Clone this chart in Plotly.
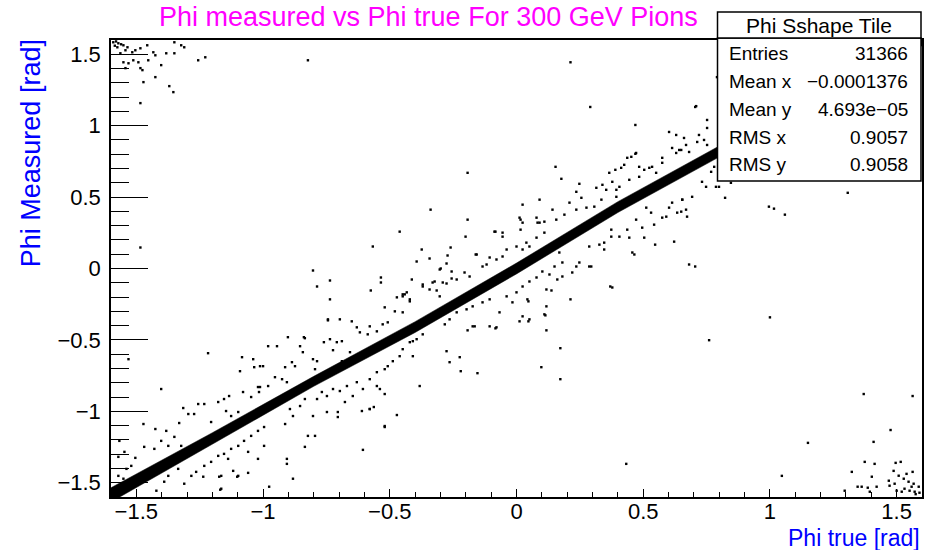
import plotly.graph_objects as go

# ---------------- data ----------------
# dense core band of the distribution: phi_true and the band's upper / lower edge in phi_measured
band_true = [-1.60, -1.20, -0.80, -0.40, 0.00, 0.40, 0.80, 1.60]
band_upper = [-1.535, -1.15, -0.755, -0.372, 0.038, 0.468, 0.858, 1.64]
band_lower = [-1.635, -1.23, -0.825, -0.448, -0.038, 0.392, 0.782, 1.56]

# sparse points far from the band (phi_true, phi_measured)
corner_top_left = [
    (-1.591, 1.584), (-1.571, 1.577), (-1.551, 1.563), (-1.535, 1.549), (-1.575, 1.549),
    (-1.563, 1.507), (-1.543, 1.528), (-1.516, 1.514), (-1.504, 1.528), (-1.484, 1.542),
    (-1.457, 1.563), (-1.433, 1.514), (-1.425, 1.493), (-1.382, 1.507), (-1.350, 1.507),
    (-1.350, 1.584), (-1.323, 1.563), (-1.311, 1.549), (-1.256, 1.458), (-1.228, 1.479),
    (-0.823, 1.458), (-1.551, 1.444), (-1.543, 1.403), (-1.531, 1.437), (-1.512, 1.458),
    (-1.492, 1.444), (-1.484, 1.403), (-1.476, 1.389), (-1.453, 1.458), (-1.472, 1.305),
    (-1.425, 1.340), (-1.402, 1.424), (-1.370, 1.277), (-1.354, 1.235), (-1.484, 1.158),
    (-1.580, 1.590), (-1.560, 1.570), (-1.585, 1.560),
]
corner_bottom_right = [
    (1.370, -0.879), (1.563, -0.893), (1.476, -1.131), (1.409, -1.214), (1.374, -1.354),
    (1.413, -1.368), (1.323, -1.424), (1.402, -1.458), (1.295, -1.556), (1.346, -1.528),
    (1.362, -1.528), (1.386, -1.535), (1.421, -1.528), (1.394, -1.563), (1.496, -1.361),
    (1.516, -1.354), (1.488, -1.417), (1.469, -1.486), (1.472, -1.521), (1.492, -1.507),
    (1.508, -1.451), (1.528, -1.472), (1.539, -1.438), (1.563, -1.424), (1.547, -1.493),
    (1.567, -1.507), (1.531, -1.542), (1.551, -1.556), (1.571, -1.563), (1.520, -1.563),
    (1.587, -1.528), (1.559, -1.528), (1.500, -1.556), (1.575, -1.580), (1.590, -1.570),
    (1.150, -1.221), (1.047, -1.452), (0.433, -1.368),
]
isolated = [
    (-1.484, 0.147), (-0.803, -0.014), (-0.339, 0.412), (-0.461, 0.258), (-0.567, 0.154),
    (-0.374, 0.133), (-0.394, 0.049), (-0.343, 0.070), (-0.260, 0.147), (-0.272, 0.091),
    (-0.276, 0.035), (-0.299, 0.000), (-0.256, -0.021), (0.213, 1.444), (0.291, 1.131),
    (0.469, 1.005), (0.705, 1.131), (0.752, 1.040), (0.752, 0.984), (0.791, 1.340),
    (0.469, 0.803), (0.437, 0.775), (0.154, 0.712), (0.177, 0.628), (-0.193, 0.670),
    (-0.193, 0.342), (-0.201, 0.223), (-0.161, 0.098), (0.024, 0.447), (0.091, 0.482),
    (0.016, 0.342), (0.016, 0.272), (-0.083, 0.258), (-0.055, 0.223), (0.287, 0.014),
    (0.681, 0.028), (0.705, 0.014), (0.622, 0.188), (0.465, 0.098), (0.823, 0.495),
    (0.799, 0.572), (0.996, 0.433), (1.016, 0.419), (1.059, 0.377), (1.307, 0.530),
    (0.846, 0.600), (0.370, -0.126), (0.378, -0.133), (0.213, -0.216), (1.000, -0.342),
    (0.760, -0.502), (-0.154, -0.733), (0.098, -0.691), (0.173, -0.558), (0.173, -0.775),
    (0.118, -0.433), (0.114, -0.328), (0.118, -0.265), (0.047, -0.370), (0.024, -0.335),
    (0.012, -0.370), (0.047, -0.230), (-0.067, -0.307), (-0.083, -0.419), (-0.106, -0.405),
    (-0.165, -0.405), (-0.193, -0.433), (0.161, -0.077), (0.138, -0.154),
    (-1.217, -0.593), (-1.402, -0.844), (-1.531, -0.635), (-0.787, -0.126), (-0.736, -0.084),
    (-0.736, -0.216), (-0.535, -0.063), (-0.535, -0.098), (-0.575, -0.154), (-0.413, -0.077),
    (-0.520, -0.272), (-0.744, -0.356), (-0.697, -0.356), (-0.882, -1.472), (-0.606, -1.270),
    (-0.520, -1.110), (-0.472, -1.026), (-0.382, -0.823), (-0.264, -0.656), (-0.224, -0.621),
    (-0.220, -0.719), (-0.276, -0.579), (-0.409, -0.614), (-0.835, -1.249), (-0.795, -1.172),
    (-0.823, -1.172), (-0.906, -1.368), (-0.906, -1.333), (-1.173, -1.458), (-1.169, -1.549),
    (-1.118, -1.417), (-1.059, -1.431), (-1.102, -1.458), (-0.976, -1.528), (-1.083, -0.621),
    (-1.039, -0.635), (-1.091, -0.719), (-0.980, -0.544), (-0.945, -0.544), (-0.902, -0.481),
    (-1.012, -0.684), (-0.839, -0.481), (-1.472, -1.089), (-1.425, -1.124), (-0.520, -0.879),
    (-0.610, -0.998), (-0.579, -0.984), (-0.563, -0.970), (-0.705, -1.040), (-0.409, -0.509),
    (-0.472, -0.202), (-0.441, -0.181), (-0.421, -0.230), (-0.370, -0.112), (-0.323, -0.091),
    (-0.315, -0.154), (-0.276, -0.105), (-0.256, -0.070),
]
# scattered points close to the band
halo = [
    (-1.315, -0.977), (-1.295, -1.019), (-1.272, -1.019), (-1.256, -0.949), (-1.232, -0.949),
    (-1.331, -1.082), (-1.382, -1.137), (-1.350, -1.179), (-1.402, -1.207), (-1.469, -1.249),
    (-1.429, -1.263), (-1.374, -1.242), (-1.323, -1.242), (-1.571, -1.319), (-1.547, -1.284),
    (-1.567, -1.207), (-1.539, -1.403), (-1.504, -1.326), (-1.520, -1.382), (-1.571, -1.452),
    (-1.551, -1.472), (-1.205, -1.075), (-1.177, -0.935), (-1.154, -0.914), (-1.134, -0.893),
    (-1.146, -0.998), (-1.126, -1.033), (-1.098, -1.005), (-1.079, -0.865), (-1.047, -0.900),
    (-1.020, -0.830), (-0.980, -0.823), (-1.016, -0.865), (-1.374, -1.452), (-1.335, -1.403),
    (-1.390, -1.493), (-1.311, -1.507), (-1.283, -1.452), (-1.264, -1.424), (-1.232, -1.382),
    (-1.205, -1.354), (-1.177, -1.312), (-1.154, -1.298), (-1.126, -1.263), (-1.098, -1.242),
    (-1.075, -1.207), (-1.047, -1.172), (-1.020, -1.137), (-0.996, -1.110), (-1.059, -1.284),
    (-1.098, -1.452), (-1.165, -1.452), (-1.138, -1.333), (-0.996, -1.242), (-1.020, -1.333),
    (-1.165, -1.542), (-1.236, -1.458), (-1.421, -1.556),
    (-0.835, -0.488), (-0.854, -0.544), (-0.843, -0.586), (-0.744, -0.363), (-0.650, -0.370),
    (-0.760, -0.516), (-0.736, -0.495), (-0.709, -0.516), (-0.689, -0.509), (-0.724, -0.572),
    (-0.630, -0.412), (-0.618, -0.447), (-0.579, -0.405), (-0.587, -0.461), (-0.551, -0.440),
    (-0.528, -0.391), (-0.508, -0.377), (-0.480, -0.300), (-0.449, -0.307), (-0.449, -0.181),
    (-0.433, -0.167), (-0.803, -0.635), (-0.787, -0.649), (-0.886, -0.656), (-0.913, -0.691),
    (-0.874, -0.684), (-1.000, -0.684), (-1.035, -0.691), (-1.012, -0.830), (-0.925, -0.775),
    (-0.953, -0.761), (-0.906, -0.796), (-0.795, -0.705), (-0.689, -0.649), (-0.657, -0.586),
    (-0.894, -0.984), (-0.882, -1.033), (-0.854, -0.963), (-0.835, -0.914), (-0.787, -0.914),
    (-0.768, -0.865), (-0.748, -0.893), (-0.724, -0.844), (-0.697, -0.858), (-0.669, -0.823),
    (-0.630, -0.796), (-0.606, -0.844), (-0.579, -0.775), (-0.551, -0.726), (-0.520, -0.705),
    (-0.508, -0.684), (-0.488, -0.649), (-0.461, -0.614), (-0.449, -0.565), (-0.551, -0.823),
    (-0.539, -0.844), (-0.579, -0.984), (-0.705, -1.005), (-0.748, -1.005), (-0.803, -1.033),
    (-0.913, -1.089), (-0.520, -1.103), (-0.646, -0.893), (-0.677, -0.935),
    (0.012, 0.356), (0.024, 0.321), (0.079, 0.356), (0.083, 0.321), (0.110, 0.328),
    (-0.087, 0.258), (-0.055, 0.251), (0.039, 0.181), (0.079, 0.216), (0.110, 0.251),
    (-0.303, -0.007), (-0.291, -0.098), (-0.205, -0.028), (-0.185, -0.056), (-0.157, 0.098),
    (-0.370, -0.126), (-0.449, -0.195), (-0.421, -0.216), (-0.331, -0.098), (-0.343, -0.147),
    (-0.303, -0.195), (-0.236, -0.077), (-0.134, 0.014), (-0.118, 0.028), (-0.106, 0.077),
    (-0.079, 0.063), (-0.055, 0.084), (-0.039, 0.133), (0.000, 0.154), (0.024, 0.133),
    (0.051, 0.154), (-0.173, -0.405), (-0.079, -0.412), (0.051, -0.356), (0.110, -0.321),
    (-0.016, -0.237), (-0.039, -0.195), (0.000, -0.167), (0.024, -0.126), (0.051, -0.091),
    (0.079, -0.063), (0.102, -0.021), (0.118, -0.147), (0.043, -0.216), (-0.106, -0.216),
    (-0.134, -0.237), (-0.173, -0.265), (-0.197, -0.286), (-0.236, -0.307), (-0.264, -0.356),
    (-0.283, -0.391), (-0.370, -0.461), (-0.421, -0.516), (-0.394, -0.495),
    (0.602, 0.956), (0.630, 0.935), (0.661, 0.914), (0.614, 0.844), (0.630, 0.809),
    (0.650, 0.830), (0.472, 0.809), (0.453, 0.782), (0.575, 0.775), (0.575, 0.740),
    (0.535, 0.712), (0.504, 0.691), (0.484, 0.712), (0.425, 0.726), (0.413, 0.705),
    (0.390, 0.691), (0.366, 0.670), (0.248, 0.593), (0.236, 0.537), (0.256, 0.495),
    (0.315, 0.565), (0.339, 0.586), (0.354, 0.551), (0.378, 0.607), (0.394, 0.551),
    (0.406, 0.572), (0.445, 0.621), (0.484, 0.642), (0.394, 0.502), (0.335, 0.482),
    (0.307, 0.433), (0.276, 0.426), (0.236, 0.412), (0.189, 0.377), (0.157, 0.342),
    (0.142, 0.412), (0.091, 0.321), (0.209, 0.461), (0.547, 0.167), (0.634, 0.391),
    (0.602, 0.426), (0.575, 0.356), (0.543, 0.307), (0.496, 0.286), (0.504, 0.216),
    (0.457, 0.112), (0.445, 0.216), (0.437, 0.272), (0.406, 0.223), (0.374, 0.272),
    (0.374, 0.223), (0.346, 0.133), (0.346, 0.181), (0.327, 0.167), (0.287, 0.154),
    (0.236, 0.014), (0.248, 0.042), (0.220, -0.028), (0.295, 0.014), (0.181, 0.042),
    (0.169, 0.112), (0.150, 0.014), (0.130, -0.042), (0.181, -0.056), (0.654, 0.482),
    (0.669, 0.412), (0.591, 0.363), (0.472, 0.342),
    (0.709, 1.137), (0.720, 0.935), (0.713, 0.886), (0.740, 0.900), (0.752, 0.865),
    (0.669, 0.865), (0.642, 0.830), (0.681, 0.816), (0.524, 0.705), (0.551, 0.670),
    (0.768, 0.677), (0.780, 0.712), (0.732, 0.607), (0.787, 0.572), (0.748, 0.572),
    (0.693, 0.502), (0.654, 0.482), (0.614, 0.461), (0.650, 0.398), (0.673, 0.363),
    (0.512, 0.426), (0.531, 0.391),
]

title_text = "Phi measured vs Phi true For 300 GeV Pions"
x_title = "Phi true [rad]"
y_title = "Phi Measured [rad]"
stats_title = "Phi Sshape Tile"
stat_labels = ["Entries", "Mean x", "Mean y", "RMS x", "RMS y"]
stat_values = ["31366", "\u22120.0001376", "4.693e\u221205", "0.9057", "0.9058"]

# ---------------- figure ----------------
FONT = "Liberation Sans, Arial, Helvetica, sans-serif"
fig = go.Figure()

# dense band as a filled polygon
poly_x = band_true + band_true[::-1]
poly_y = band_upper + band_lower[::-1]
fig.add_trace(go.Scatter(x=poly_x, y=poly_y, mode="lines", fill="toself",
                         fillcolor="black", line=dict(color="black", width=0.5),
                         hoverinfo="skip", showlegend=False))

pts = corner_top_left + corner_bottom_right + isolated + halo
fig.add_trace(go.Scatter(x=[p[0] for p in pts], y=[p[1] for p in pts], mode="markers",
                         marker=dict(symbol="square", size=2.4, color="black", line=dict(width=0)),
                         showlegend=False, cliponaxis=True))

fig.update_xaxes(range=[-1.6, 1.6], tick0=0, dtick=0.5, ticks="inside", ticklen=8,
                 tickwidth=1, tickcolor="black", ticklabelstandoff=-6,
                 minor=dict(dtick=0.1, ticks="inside", ticklen=5, tickcolor="black"),
                 showline=True, linecolor="black", linewidth=1.5, mirror=True,
                 showgrid=False, zeroline=False,
                 tickfont=dict(family=FONT, size=22, color="black"))
fig.update_yaxes(range=[-1.6, 1.6], tick0=0, dtick=0.5, ticks="inside", ticklen=37,
                 tickwidth=1, tickcolor="black", ticklabelstandoff=4,
                 minor=dict(dtick=0.1, ticks="inside", ticklen=18, tickcolor="black"),
                 showline=True, linecolor="black", linewidth=1.5, mirror=True,
                 showgrid=False, zeroline=False,
                 tickfont=dict(family=FONT, size=22, color="black"))

L, R, T, B = 111, 2, 40, 53
W, H = 926, 550
pw, ph = W - L - R, H - T - B
def px(xp):
    return (xp - L) / pw
def py(yp):
    return (H - B - yp) / ph

annotations = [
    dict(text=title_text, x=px(429), y=py(17), xref="paper", yref="paper",
         xanchor="center", yanchor="middle", showarrow=False,
         font=dict(family=FONT, size=27, color="#ff00ff")),
    dict(text=y_title, x=px(31), y=py(37), xref="paper", yref="paper", textangle=-90,
         xanchor="center", yanchor="top", showarrow=False,
         font=dict(family=FONT, size=27, color="#0000ff")),
    dict(text=x_title, x=px(924), y=py(538), xref="paper", yref="paper",
         xanchor="right", yanchor="middle", showarrow=False,
         font=dict(family=FONT, size=23, color="#0000ff")),
    dict(text=stats_title, x=px(821), y=py(25), xref="paper", yref="paper",
         xanchor="center", yanchor="middle", showarrow=False,
         font=dict(family=FONT, size=21, color="black")),
]
row_y = [54, 81, 109, 137, 164]
for lab, val, yy in zip(stat_labels, stat_values, row_y):
    annotations.append(dict(text=lab, x=px(729), y=py(yy), xref="paper", yref="paper",
                            xanchor="left", yanchor="middle", showarrow=False,
                            font=dict(family=FONT, size=19, color="black")))
    annotations.append(dict(text=val, x=px(912), y=py(yy), xref="paper", yref="paper",
                            xanchor="right", yanchor="middle", showarrow=False,
                            font=dict(family=FONT, size=19, color="black")))

shapes = [
    dict(type="rect", xref="paper", yref="paper", x0=px(719), x1=px(923), y0=py(181), y1=py(38),
         fillcolor="white", line=dict(color="black", width=1.5), layer="above"),
    dict(type="rect", xref="paper", yref="paper", x0=px(719), x1=px(923), y0=py(38), y1=py(12),
         fillcolor="white", line=dict(color="black", width=1.5), layer="above"),
]

fig.update_layout(width=W, height=H, margin=dict(l=L, r=R, t=T, b=B, pad=0),
                  paper_bgcolor="white", plot_bgcolor="white",
                  annotations=annotations, shapes=shapes, showlegend=False)

fig.write_html("out.html")
